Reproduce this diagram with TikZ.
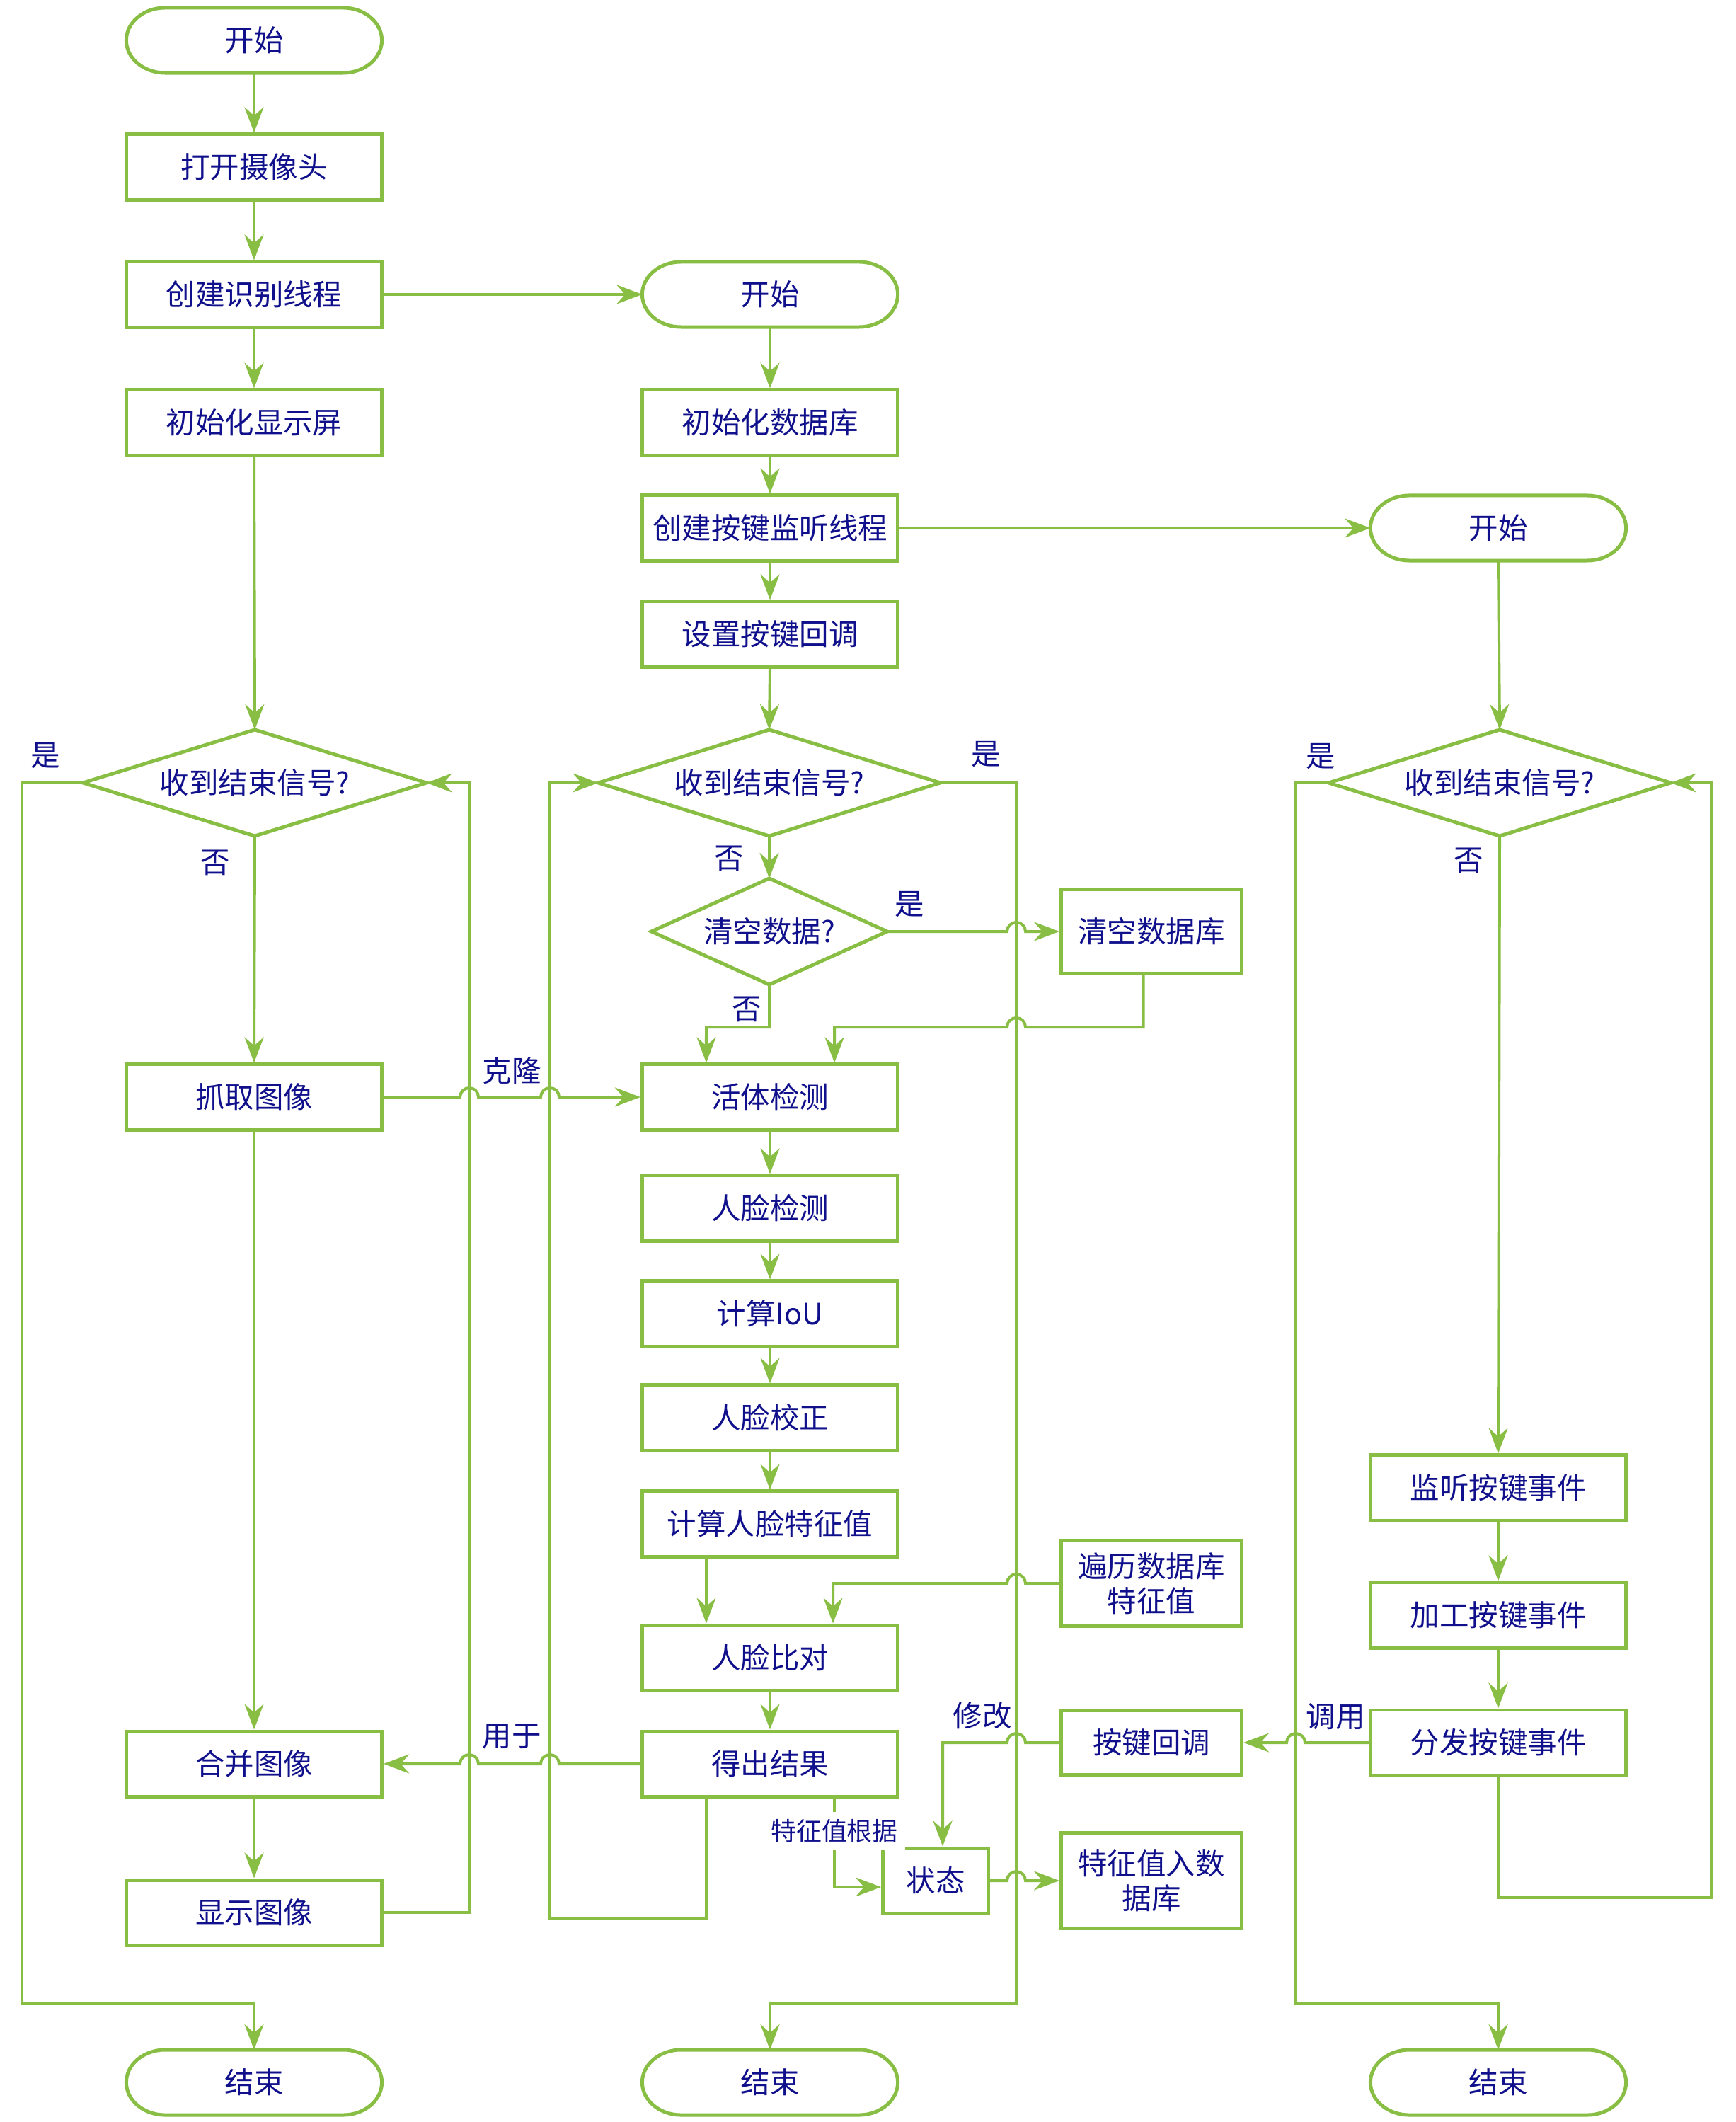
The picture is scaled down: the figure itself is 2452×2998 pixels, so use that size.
\documentclass[tikz,border=0pt]{standalone}
\usepackage{fontspec}
\setmainfont{Noto Sans CJK SC}
\usetikzlibrary{arrows.meta,calc}
\definecolor{G}{RGB}{137,190,69}
\definecolor{T}{RGB}{16,16,140}
\newcommand\fs{\fontsize{11.8pt}{14pt}\selectfont}
\newcommand\fss{\fontsize{10.2pt}{12pt}\selectfont}
\tikzset{
  bline/.style={draw=G,line width=1.42pt},
  box/.style={bline,fill=white,minimum width=3.61cm,minimum height=0.92cm,inner sep=0pt,text=T,font=\fs,align=center},
  sbox/.style={box,minimum width=2.55cm},
  ghost/.style={minimum width=3.61cm,minimum height=0.92cm,inner sep=0pt,outer sep=0pt,text=T,font=\fs,align=center},
  arr/.style={draw=G,line width=1.14pt,-{Stealth[length=0.36cm,width=0.27cm,inset=0.12cm]}},
  lbl/.style={text=T,font=\fs,inner sep=0pt},
}
\newcommand\termnode[3]{%
  \node[ghost] (#1) at (#2) {#3};
  \draw[bline] ([xshift=0.55cm]#1.north west) -- ([xshift=-0.55cm]#1.north east)
    arc[start angle=90,end angle=-90,x radius=0.55cm,y radius=0.46cm]
    -- ([xshift=0.55cm]#1.south west)
    arc[start angle=270,end angle=90,x radius=0.55cm,y radius=0.46cm] -- cycle;}
\newcommand\dianode[4]{%
  \node[ghost,minimum width=#3,minimum height=1.5cm] (#1) at (#2) {#4};
  \draw[bline,line join=miter] (#1.north) -- (#1.east) -- (#1.south) -- (#1.west) -- cycle;}
\begin{document}
\begin{tikzpicture}[x=0.01cm,y=0.01cm]
\fill[white] (0,0) rectangle (2452,-2998);
\useasboundingbox (0,0) rectangle (2452,-2998);

% ---------- column 1
\termnode{s1}{359,-57}{开始}
\node[box] (b1) at (359,-236) {打开摄像头};
\node[box] (b2) at (359,-416) {创建识别线程};
\node[box] (b3) at (359,-597) {初始化显示屏};
\dianode{d1}{360,-1106}{4.85cm}{收到结束信号?}
\node[box] (b4) at (359,-1550) {抓取图像};
\node[box] (b5) at (359,-2492) {合并图像};
\node[box] (b6) at (359,-2702) {显示图像};
\termnode{e1}{359,-2942}{结束}

% ---------- column 2
\termnode{s2}{1088,-416}{开始}
\node[box] (c1) at (1088,-597) {初始化数据库};
\node[box] (c2) at (1088,-746) {创建按键监听线程};
\node[box] (c3) at (1088,-896) {设置按键回调};
\dianode{d2}{1087,-1106}{4.83cm}{收到结束信号?}
\dianode{d3}{1087,-1316}{3.33cm}{清空数据?}
\node[box] (c4) at (1088,-1550) {活体检测};
\node[box] (c5) at (1088,-1707) {人脸检测};
\node[box] (c6) at (1088,-1856) {计算IoU};
\node[box] (c7) at (1088,-2003) {人脸校正};
\node[box] (c8) at (1088,-2153) {计算人脸特征值};
\node[box] (c9) at (1088,-2342) {人脸比对};
\node[box] (c10) at (1088,-2492) {得出结果};
\termnode{e2}{1088,-2942}{结束}

% ---------- side boxes
\node[sbox,minimum height=1.19cm] (r1) at (1627,-1316) {清空数据库};
\node[sbox,minimum height=1.21cm] (r2) at (1627,-2237) {遍历数据库\\特征值};
\node[sbox,minimum height=0.90cm] (r3) at (1627,-2462) {按键回调};
\node[sbox,minimum height=1.35cm] (r4) at (1627,-2657) {特征值入数\\据库};
\node[box,minimum width=1.49cm] (st) at (1322,-2657) {状态};

% ---------- column 3
\termnode{s3}{2117,-746}{开始}
\dianode{d4}{2119,-1106}{4.83cm}{收到结束信号?}
\node[box] (k1) at (2117,-2102) {监听按键事件};
\node[box] (k2) at (2117,-2282) {加工按键事件};
\node[box] (k3) at (2117,-2462) {分发按键事件};
\termnode{e3}{2117,-2942}{结束}

% ---------- connectors column 1
\draw[arr] (s1.south) -- (b1.north);
\draw[arr] (b1.south) -- (b2.north);
\draw[arr] (b2.south) -- (b3.north);
\draw[arr] (b2.east) -- (s2.west);
\draw[arr] (b3.south) -- (d1.north);
\draw[arr] (d1.south) -- (b4.north);
\draw[arr] (d1.west) -- (31,-1106) -- (31,-2831) -| (e1.north);
\draw[arr] (b4.south) -- (b5.north);
\draw[arr] (b5.south) -- (b6.north);
\draw[arr] (b6.east) -| (663,-1106) -- (d1.east);
\draw[arr] (b4.east) -- (650,-1550) arc[start angle=180,end angle=0,radius=0.13cm]
  -- (764,-1550) arc[start angle=180,end angle=0,radius=0.13cm] -- (c4.west);
\draw[arr] (c10.west) -- (790,-2492) arc[start angle=0,end angle=180,radius=0.13cm]
  -- (676,-2492) arc[start angle=0,end angle=180,radius=0.13cm] -- (b5.east);
\draw[arr] ([xshift=-0.9cm]c10.south) |- (777,-2711) -- (777,-1106) -- (d2.west);

% ---------- connectors column 2
\draw[arr] (s2.south) -- (c1.north);
\draw[arr] (c1.south) -- (c2.north);
\draw[arr] (c2.south) -- (c3.north);
\draw[arr] (c3.south) -- (d2.north);
\draw[arr] (c2.east) -- (s3.west);
\draw[arr] (d2.south) -- (d3.north);
\draw[arr] (d2.east) -| (1436,-2831) -| (e2.north);
\draw[arr] (d3.east) -- (1423,-1316) arc[start angle=180,end angle=0,radius=0.13cm] -- (r1.west);
\draw[arr] (d3.south) |- (998,-1451) -- ([xshift=-0.9cm]c4.north);
\draw[arr] ([xshift=-0.115cm]r1.south) |- (1449,-1451) arc[start angle=0,end angle=180,radius=0.13cm]
  -| ([xshift=0.91cm]c4.north);
\draw[arr] (c4.south) -- (c5.north);
\draw[arr] (c5.south) -- (c6.north);
\draw[arr] (c6.south) -- (c7.north);
\draw[arr] (c7.south) -- (c8.north);
\draw[arr] ([xshift=-0.9cm]c8.south) -- ([xshift=-0.9cm]c9.north);
\draw[arr] (r2.west) -- (1449,-2237) arc[start angle=0,end angle=180,radius=0.13cm]
  -| ([xshift=0.89cm]c9.north);
\draw[arr] (c9.south) -- (c10.north);
\draw[arr] ([xshift=0.91cm]c10.south) |- ([yshift=-0.09cm]st.west);
\draw[arr] (r3.west) -- (1449,-2462) arc[start angle=0,end angle=180,radius=0.13cm]
  -| ([xshift=0.1cm]st.north);
\draw[arr] (st.east) -- (1423,-2657) arc[start angle=180,end angle=0,radius=0.13cm] -- (r4.west);

% ---------- connectors column 3
\draw[arr] (s3.south) -- (d4.north);
\draw[arr] (d4.south) -- (k1.north);
\draw[arr] (d4.west) -| (1831,-2831) -| (e3.north);
\draw[arr] (k1.south) -- (k2.north);
\draw[arr] (k2.south) -- (k3.north);
\draw[arr] (k3.west) -- (1844,-2462) arc[start angle=0,end angle=180,radius=0.13cm] -- (r3.east);
\draw[arr] (k3.south) |- (2418,-2681) -- (2418,-1106) -- (d4.east);

% ---------- labels
\node[lbl] (l1) at (64,-1068) {是};
\node[lbl] (l2) at (304,-1219) {否};
\node[lbl] (l3) at (723,-1513) {克隆};
\node[lbl] (l4) at (723,-2453) {用于};
\node[lbl] (l5) at (1393,-1066) {是};
\node[lbl] (l6) at (1030,-1213) {否};
\node[lbl] (l7) at (1285,-1278) {是};
\node[lbl] (l8) at (1055,-1426) {否};
\node[lbl] (l9) at (1388,-2424) {修改};
\node[lbl,font=\fss,fill=white,inner sep=3pt] (l10) at (1179,-2587) {特征值根据};
\node[lbl] (l11) at (1866,-1069) {是};
\node[lbl] (l12) at (2075,-1216) {否};
\node[lbl] (l13) at (1887,-2425) {调用};
\end{tikzpicture}
\end{document}
